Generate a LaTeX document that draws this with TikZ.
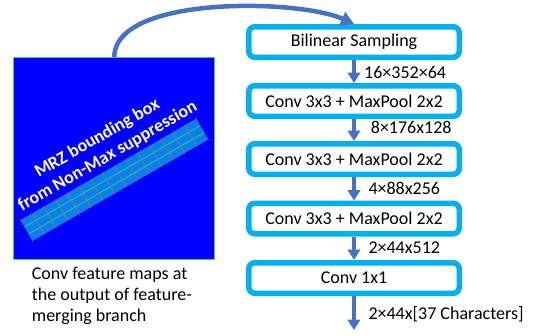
\documentclass[tikz,border=0pt]{standalone}
\usepackage{fontspec}
\setmainfont{Carlito}
\usetikzlibrary{arrows.meta}

\definecolor{boxcyan}{RGB}{0,176,240}
\definecolor{arrowblue}{RGB}{68,114,196}
\definecolor{mapblue}{RGB}{0,0,255}
\definecolor{mapedge}{RGB}{90,200,90}
\definecolor{stripfill}{RGB}{10,128,232}
\definecolor{rowline}{RGB}{40,200,160}
\definecolor{colline}{RGB}{90,135,160}
\definecolor{edgedot}{RGB}{230,20,40}
\definecolor{innerdot}{RGB}{120,130,150}

\tikzset{
  txt/.style={font=\fontsize{18}{21}\selectfont, inner sep=0pt},
  blk/.style={txt, draw=boxcyan, line width=5.5pt, fill=white,
    rounded corners=6pt, minimum width=210.5pt, minimum height=30.5pt},
  flow/.style={draw=arrowblue, line width=4.8pt,
    -{Triangle[width=12.5pt,length=10.5pt]}},
  curvearrow/.style={draw=arrowblue, line width=4.5pt,
    -{Triangle[width=14pt,length=13pt]}},
  lbl/.style={txt, anchor=base west},
  captext/.style={txt, anchor=base west},
  fmapbox/.style={fill=mapblue, draw=mapedge, line width=0.8pt,
    minimum width=201pt, minimum height=202pt, inner sep=0pt},
  mrz/.style={font=\bfseries\fontsize{18}{20.8}\selectfont, text=white,
    inner sep=0pt, align=center},
}

\begin{document}
\begin{tikzpicture}[x=1pt,y=-1pt]
\useasboundingbox (0,0) rectangle (533,335);

% feature map
\node[fmapbox] (fmap) at (114.3,158.5) {};

% detected text strip with its sampling grid
\begin{scope}[shift={(114.4,179.8)}, rotate=30]
  \fill[stripfill] (-101.5,-12) rectangle (101.5,12);
  \foreach \v in {-4,4}
    \draw[rowline, line width=0.8pt] (-101.5,\v) -- (101.5,\v);
  \foreach \i in {1,...,14}
    \draw[colline, line width=0.8pt] ({-101.5+\i*203/15},-12) -- ++(0,24);
  \foreach \i in {1,...,14}
    \foreach \v in {-4,4}
      \fill[innerdot] ({-101.5+\i*203/15},\v) circle (1.1pt);
  \foreach \i in {0,...,15}
    \foreach \v in {-12,12}
      \fill[edgedot] ({-101.5+\i*203/15},\v) circle (1.1pt);
  \foreach \u in {-101.5,101.5}
    \foreach \v in {-4,4}
      \fill[edgedot] (\u,\v) circle (1.1pt);
\end{scope}

\node[mrz, rotate=30] (mrz) at (102.5,147.5) {MRZ bounding box\\from Non-Max suppression};

% caption
\node[captext] (c1) at (31.7,279) {Conv feature maps at};
\node[captext] (c2) at (31.7,300) {the output of feature-};
\node[captext] (c3) at (31.7,321) {merging branch};

% recognition branch
\node[blk] (b1) at (354,42) {Bilinear Sampling};
\node[blk] (b2) at (354,101) {Conv 3x3 + MaxPool 2x2};
\node[blk] (b3) at (354,159) {Conv 3x3 + MaxPool 2x2};
\node[blk] (b4) at (354,218.5) {Conv 3x3 + MaxPool 2x2};
\node[blk] (b5) at (354,278) {Conv 1x1};
\coordinate (out) at (354,330);

\draw[flow] (b1.south) -- (b2.north);
\draw[flow] (b2.south) -- (b3.north);
\draw[flow] (b3.south) -- (b4.north);
\draw[flow] (b4.south) -- (b5.north);
\draw[flow] (b5.south) -- (out);

\node[lbl] (l1) at (364,78) {16×352×64};
\node[lbl] (l2) at (370.7,133.3) {8×176x128};
\node[lbl] (l3) at (368.3,194.3) {4×88x256};
\node[lbl] (l4) at (368.3,253.3) {2×44x512};
\node[lbl] (l5) at (368.3,319.3) {2×44x[37 Characters]};

% crop of the feature map fed to the sampler
\draw[curvearrow] (fmap.north) .. controls +(0,-62) and +(-55,-25) .. (b1.north);
\end{tikzpicture}
\end{document}
